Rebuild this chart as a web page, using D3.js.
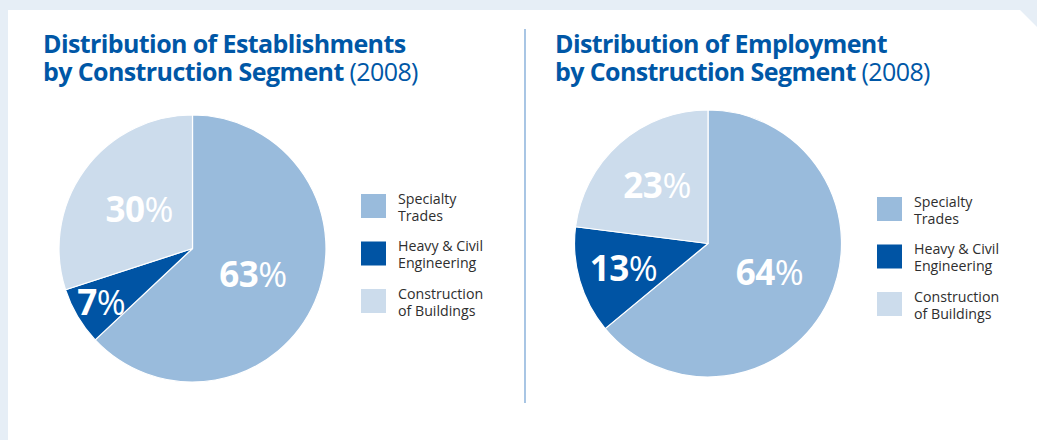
<!DOCTYPE html>
<html><head><meta charset="utf-8">
<script src="https://cdn.jsdelivr.net/npm/d3@7"></script>
<style>
html,body{margin:0;padding:0;background:#fff;}
svg{display:block;}
</style></head>
<body>
<svg id="c" width="1037" height="440"></svg>
<script>
const categories = ["Specialty Trades", "Heavy & Civil Engineering", "Construction of Buildings"];
const legendLines = [["Specialty", "Trades"], ["Heavy & Civil", "Engineering"], ["Construction", "of Buildings"]];
const establishments = [63, 7, 30];
const employment = [64, 13, 23];
const titlesBold = [["Distribution of Establishments", "by Construction Segment"], ["Distribution of Employment", "by Construction Segment"]];
const titleYear = "(2008)";

const colors = ["#99bbdc", "#0054a4", "#ccdcec"];
const svg = d3.select("#c");
const font = "'Open Sans', 'Noto Sans', sans-serif";

// frame
svg.append("rect").attr("width", 1037).attr("height", 440).attr("fill", "#e6eef6");
svg.append("path").attr("d", "M8,10 L1020,10 L1037,27 L1037,440 L8,440 Z").attr("fill", "#fff");

// divider
svg.append("line").attr("x1", 525).attr("x2", 525).attr("y1", 29).attr("y2", 403)
  .attr("stroke", "#6f9fd2").attr("stroke-width", 1.2);

const charts = [
  {data: establishments, cx: 192.5, cy: 248.5, tx: 43, lx: 361, ly: 194, labelR: [66, 106, 66], title: titlesBold[0]},
  {data: employment, cx: 708, cy: 243.5, tx: 555, lx: 877, ly: 197, labelR: [68, 88, 77], title: titlesBold[1]}
];
const R = 133.5;
const pie = d3.pie().sort(null).value(d => d);
const arc = d3.arc().innerRadius(0).outerRadius(R);

charts.forEach(ch => {
  // title
  svg.append("text").attr("x", ch.tx).attr("y", 53).attr("font-family", font).attr("fill", "#0057a6")
    .attr("font-size", 25).attr("font-weight", 700).attr("letter-spacing", -0.6).text(ch.title[0]);
  const t2 = svg.append("text").attr("x", ch.tx).attr("y", 81).attr("font-family", font).attr("fill", "#0057a6")
    .attr("font-size", 25).attr("letter-spacing", -0.6);
  t2.append("tspan").attr("font-weight", 700).text(ch.title[1] + " ");
  t2.append("tspan").attr("font-weight", 400).text(titleYear);

  const g = svg.append("g").attr("transform", `translate(${ch.cx},${ch.cy})`);
  const arcs = pie(ch.data);
  g.selectAll("path").data(arcs).join("path")
    .attr("d", arc).attr("fill", (d, i) => colors[i])
    .attr("stroke", "#fff").attr("stroke-width", 1.2).attr("stroke-linejoin", "round");

  arcs.forEach((d, i) => {
    const r = ch.labelR[i];
    const a = (d.startAngle + d.endAngle) / 2;
    const x = Math.sin(a) * r, y = -Math.cos(a) * r;
    const txt = g.append("text").attr("x", x).attr("y", y).attr("dy", "0.36em")
      .attr("text-anchor", "middle").attr("font-family", font).attr("font-size", 35)
      .attr("fill", "#fff").attr("letter-spacing", -0.5);
    txt.append("tspan").attr("font-weight", 700).text(d.data);
    txt.append("tspan").attr("font-weight", 400).text("%");
  });

  // legend
  legendLines.forEach((lines, i) => {
    const y0 = ch.ly + i * 47.5;
    svg.append("rect").attr("x", ch.lx).attr("y", y0).attr("width", 25).attr("height", 24).attr("fill", colors[i]);
    const lt = svg.append("text").attr("font-family", font).attr("font-size", 14.2).attr("fill", "#2e2e2e");
    lines.forEach((ln, j) => {
      lt.append("tspan").attr("x", ch.lx + 37).attr("y", y0 + 9.5 + j * 17).text(ln);
    });
  });
});
</script>
</body></html>
